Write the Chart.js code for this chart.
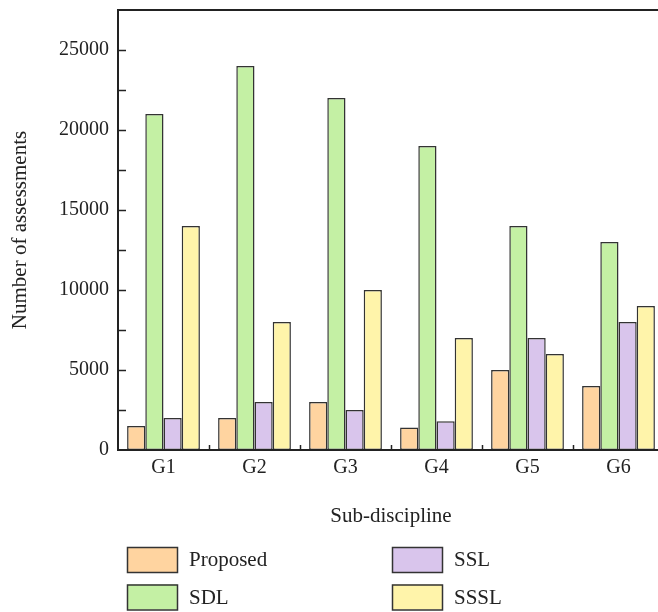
<!DOCTYPE html>
<html>
<head>
<meta charset="utf-8">
<script src="https://cdn.jsdelivr.net/npm/chart.js@4.4.0/dist/chart.umd.min.js"></script>
<style>
  html, body { margin: 0; padding: 0; background: #fff; overflow: hidden; width: 658px; height: 612px; }
  #wrap { position: relative; width: 668px; height: 612px; }
</style>
</head>
<body>
<div id="wrap"><canvas id="c" width="668" height="612"></canvas></div>
<script>
// Assessment counts per sub-discipline for each learning approach
const categories = ['G1', 'G2', 'G3', 'G4', 'G5', 'G6'];
const proposed = [1500, 2000, 3000, 1400, 5000, 4000];
const sdl      = [21000, 24000, 22000, 19000, 14000, 13000];
const ssl      = [2000, 3000, 2500, 1800, 7000, 8000];
const sssl     = [14000, 8000, 10000, 7000, 6000, 9000];
const seriesNames = ['Proposed', 'SDL', 'SSL', 'SSSL'];
const seriesColors = ['#FFD4A0', '#C4F0A4', '#D9C5EC', '#FFF4AA'];
const yMax = 27500;
const yStep = 2500;
const yLabelStep = 5000;

const FONT = "'Liberation Serif', 'Times New Roman', serif";
const INK = '#222';

// Axis frame, inward tick marks and a two-column legend
const framePlugin = {
  id: 'frame',
  afterDraw(chart) {
    const { ctx, chartArea: a, scales: { x, y } } = chart;
    ctx.save();
    ctx.strokeStyle = INK;
    ctx.lineWidth = 1.5;
    ctx.lineCap = 'butt';

    // y ticks pointing into the plot
    y.ticks.forEach(t => {
      if (t.value >= y.max || t.value <= y.min) return;
      const py = Math.round(y.getPixelForValue(t.value)) + 0.5;
      ctx.beginPath();
      ctx.moveTo(a.left, py);
      ctx.lineTo(a.left + 8, py);
      ctx.stroke();
    });

    // x ticks on category boundaries
    for (let i = 0; i < categories.length - 1; i++) {
      const px = Math.round((x.getPixelForValue(i) + x.getPixelForValue(i + 1)) / 2) + 0.5;
      ctx.beginPath();
      ctx.moveTo(px, a.bottom);
      ctx.lineTo(px, a.bottom - 5);
      ctx.stroke();
    }

    // frame: top, left, bottom
    ctx.lineWidth = 2;
    ctx.beginPath();
    ctx.moveTo(a.right + 4, a.top);
    ctx.lineTo(a.left, a.top);
    ctx.lineTo(a.left, a.bottom);
    ctx.lineTo(a.right + 4, a.bottom);
    ctx.stroke();

    // legend
    ctx.font = '21px ' + FONT;
    ctx.textBaseline = 'middle';
    ctx.textAlign = 'left';
    chart.data.datasets.forEach((ds, i) => {
      const col = Math.floor(i / 2);
      const row = i % 2;
      const bx = a.left + 9 + col * 265;
      const by = 547 + row * 37.5;
      ctx.fillStyle = ds.backgroundColor;
      ctx.fillRect(bx, by, 50, 25);
      ctx.lineWidth = 1.5;
      ctx.strokeStyle = '#333';
      ctx.strokeRect(bx + 0.5, by + 0.5, 50, 25);
      ctx.fillStyle = INK;
      ctx.fillText(ds.label, bx + 62, by + 13.5);
    });
    ctx.restore();
  }
};

const seriesData = [proposed, sdl, ssl, sssl];

new Chart(document.getElementById('c'), {
  type: 'bar',
  data: {
    labels: categories,
    datasets: seriesNames.map((name, i) => ({
      label: name,
      data: seriesData[i],
      backgroundColor: seriesColors[i],
      borderColor: '#333',
      borderWidth: 1.5,
      borderSkipped: false,
      barPercentage: 1.0,
      categoryPercentage: 0.8
    }))
  },
  options: {
    responsive: false,
    devicePixelRatio: 1,
    animation: false,
    layout: { autoPadding: false, padding: { top: 10, right: 4, left: 0, bottom: 0 } },
    plugins: {
      legend: { display: false },
      tooltip: { enabled: false }
    },
    scales: {
      x: {
        type: 'category',
        offset: true,
        grid: { display: false, drawTicks: false },
        border: { display: false },
        ticks: { color: INK, font: { family: FONT, size: 20 }, padding: 6 },
        title: {
          display: true,
          text: 'Sub-discipline',
          color: INK,
          font: { family: FONT, size: 21 },
          padding: { top: 0, bottom: 83 }
        },
        afterFit(scale) {
          scale.height = 162;
          scale.paddingLeft = 0;
          scale.paddingRight = 0;
        }
      },
      y: {
        min: 0,
        max: yMax,
        grid: { display: false, drawTicks: false },
        border: { display: false },
        ticks: {
          stepSize: yStep,
          color: INK,
          font: { family: FONT, size: 20 },
          padding: 9,
          callback: v => (v % yLabelStep === 0 ? String(v) : '')
        },
        title: {
          display: true,
          text: 'Number of assessments',
          color: INK,
          font: { family: FONT, size: 21 },
          padding: { top: 8, bottom: 0 }
        },
        afterFit(scale) {
          scale.width = 118;
          scale.paddingTop = 0;
          scale.paddingBottom = 0;
        }
      }
    }
  },
  plugins: [framePlugin]
});
</script>
</body>
</html>
